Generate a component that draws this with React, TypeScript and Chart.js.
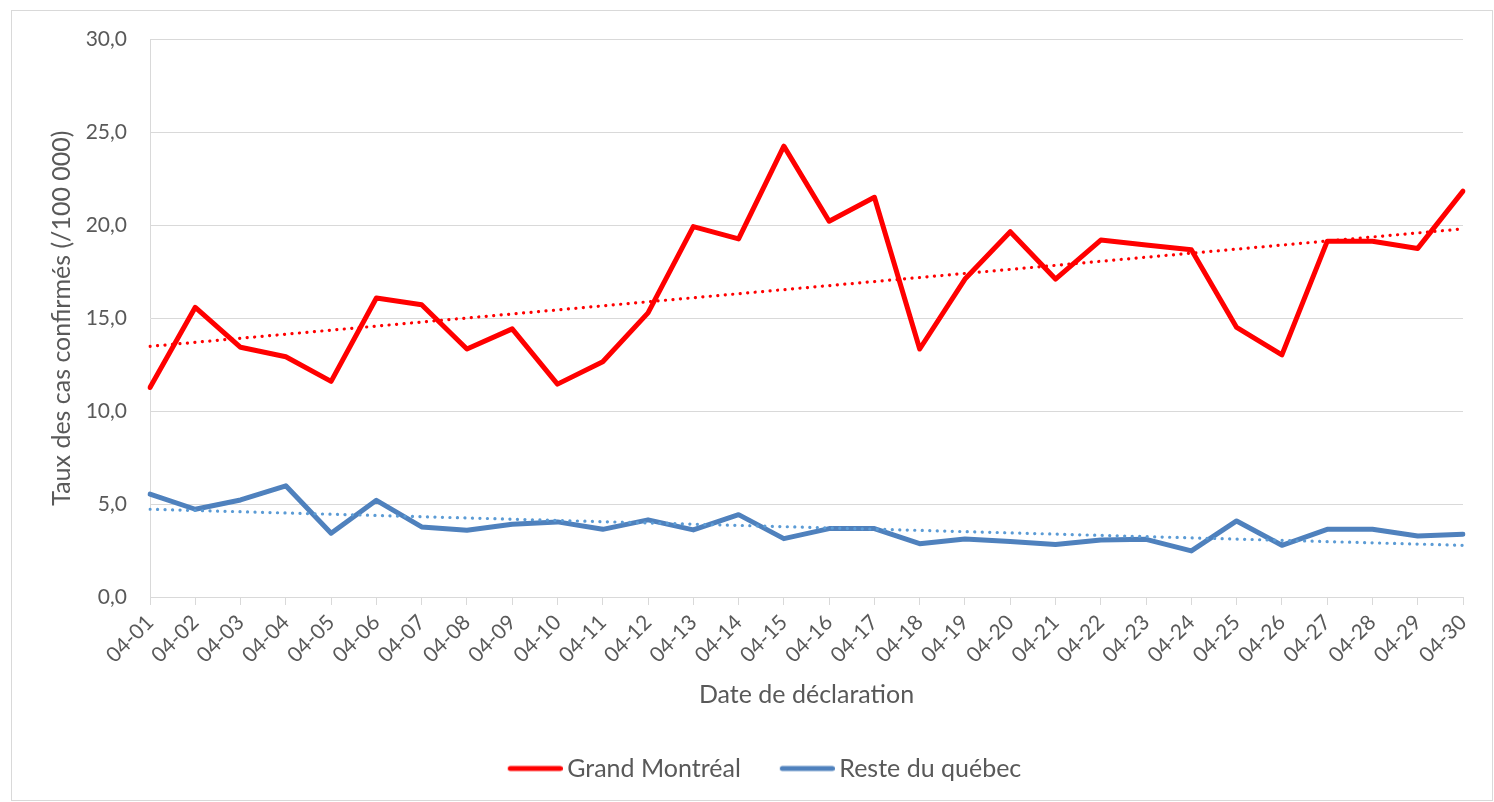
import React, { useEffect, useRef } from 'react';
import { Chart, registerables } from 'chart.js';

Chart.register(...registerables);

const labels = [
  '04-01', '04-02', '04-03', '04-04', '04-05', '04-06', '04-07', '04-08', '04-09', '04-10',
  '04-11', '04-12', '04-13', '04-14', '04-15', '04-16', '04-17', '04-18', '04-19', '04-20',
  '04-21', '04-22', '04-23', '04-24', '04-25', '04-26', '04-27', '04-28', '04-29', '04-30',
];

const grandMontreal = [
  11.27, 15.58, 13.43, 12.92, 11.6, 16.08, 15.72, 13.34, 14.42, 11.45,
  12.65, 15.28, 19.92, 19.26, 24.25, 20.21, 21.5, 13.34, 17.1, 19.65,
  17.1, 19.2, 18.93, 18.68, 14.5, 13.02, 19.13, 19.13, 18.75, 21.83,
];

const resteQuebec = [
  5.53, 4.72, 5.22, 5.98, 3.43, 5.2, 3.77, 3.59, 3.91, 4.04,
  3.64, 4.15, 3.61, 4.43, 3.14, 3.68, 3.68, 2.87, 3.12, 2.98,
  2.82, 3.07, 3.1, 2.48, 4.09, 2.78, 3.64, 3.64, 3.28, 3.38,
];

// Linear trend lines: values at first and last date
const trendMontreal = [13.48, 19.8];
const trendQuebec = [4.72, 2.78];

const yMin = 0;
const yMax = 30;
const yStep = 5;

const FONT = 'Lato, "Open Sans", sans-serif';
const TEXT = '#595959';
const GRID = '#d9d9d9';
const RED = '#ff0000';
const BLUE = '#4f81bd';

function legendLine(color: string): HTMLCanvasElement {
  const c = document.createElement('canvas');
  c.width = 63;
  c.height = 8;
  const ctx = c.getContext('2d')!;
  ctx.strokeStyle = color;
  ctx.lineWidth = 5;
  ctx.lineCap = 'round';
  ctx.beginPath();
  ctx.moveTo(10.5, 4);
  ctx.lineTo(60.5, 4);
  ctx.stroke();
  return c;
}

export default function App() {
  const canvasRef = useRef<HTMLCanvasElement | null>(null);

  useEffect(() => {
    if (!canvasRef.current) return;
    const first = labels[0];
    const last = labels[labels.length - 1];
    const legendImgs = [legendLine(RED), legendLine(BLUE)];
    const chart = new Chart(canvasRef.current, {
      type: 'line',
      data: {
        labels,
        datasets: [
          {
            label: 'Grand Montréal',
            data: grandMontreal,
            borderColor: RED,
            backgroundColor: RED,
            borderWidth: 5,
            pointRadius: 0,
            borderCapStyle: 'round',
            borderJoinStyle: 'round',
            tension: 0,
            order: 2,
          },
          {
            label: 'Reste du québec',
            data: resteQuebec,
            borderColor: BLUE,
            backgroundColor: BLUE,
            borderWidth: 5,
            pointRadius: 0,
            borderCapStyle: 'round',
            borderJoinStyle: 'round',
            tension: 0,
            order: 2,
          },
          {
            label: 'trend1',
            data: [
              { x: first, y: trendMontreal[0] },
              { x: last, y: trendMontreal[1] },
            ],
            borderColor: RED,
            borderWidth: 3.2,
            borderDash: [0.1, 7.4],
            borderCapStyle: 'round',
            pointRadius: 0,
            order: 1,
          },
          {
            label: 'trend2',
            data: [
              { x: first, y: trendQuebec[0] },
              { x: last, y: trendQuebec[1] },
            ],
            borderColor: '#5b9bd5',
            borderWidth: 3.2,
            borderDash: [0.1, 7.4],
            borderCapStyle: 'round',
            pointRadius: 0,
            order: 1,
          },
        ] as any,
      },
      options: {
        animation: false,
        responsive: true,
        maintainAspectRatio: false,
        layout: { padding: { left: 25, top: 28, right: 0, bottom: 9 } },
        plugins: {
          tooltip: { enabled: false },
          legend: {
            position: 'bottom',
            labels: {
              generateLabels: (ch: any) => {
                const items = (Chart as any).defaults.plugins.legend.labels.generateLabels(ch);
                return items
                  .filter((it: any) => it.datasetIndex < 2)
                  .map((it: any) => ({ ...it, pointStyle: legendImgs[it.datasetIndex] }));
              },
              usePointStyle: true,
              pointStyleWidth: 47,
              padding: 39,
              color: TEXT,
              font: { family: FONT, size: 25 },
            },
          },
        },
        scales: {
          x: {
            type: 'category',
            offset: false,
            grid: {
              display: true,
              drawOnChartArea: false,
              drawTicks: true,
              tickLength: 8,
              color: GRID,
            },
            border: { display: true, color: GRID },
            ticks: {
              autoSkip: false,
              maxRotation: 45,
              minRotation: 45,
              padding: 5,
              color: TEXT,
              font: { family: FONT, size: 21 },
            },
            title: {
              display: true,
              text: 'Date de déclaration',
              color: TEXT,
              font: { family: FONT, size: 25 },
              padding: { top: 4, bottom: 7 },
            },
            afterFit: (scale: any) => {
              scale.height = 120;
            },
          },
          y: {
            min: yMin,
            max: yMax,
            grid: { color: GRID, drawTicks: false, lineWidth: 1 },
            border: { display: true, color: GRID },
            ticks: {
              stepSize: yStep,
              padding: 23,
              color: TEXT,
              font: { family: FONT, size: 21, lineHeight: 0.5 },
              callback: (v: any) => Number(v).toFixed(1).replace('.', ','),
            },
            title: {
              display: true,
              text: 'Taux des cas confirmés (/100 000)',
              color: TEXT,
              font: { family: FONT, size: 25 },
              padding: { top: 10, bottom: 0 },
            },
            afterFit: (scale: any) => {
              scale.width = 113;
            },
          },
          yRightSpace: {
            type: 'linear',
            position: 'right',
            display: true,
            grid: { display: false, drawTicks: false },
            border: { display: false },
            ticks: { display: false },
            afterFit: (scale: any) => {
              scale.width = 29;
            },
          },
        },
      } as any,
    });
    return () => chart.destroy();
  }, []);

  return (
    <div
      style={{
        position: 'absolute',
        left: 11,
        top: 10,
        width: 1480,
        height: 789,
        border: '1px solid #d9d9d9',
        background: '#fff',
      }}
    >
      <canvas ref={canvasRef} />
    </div>
  );
}
